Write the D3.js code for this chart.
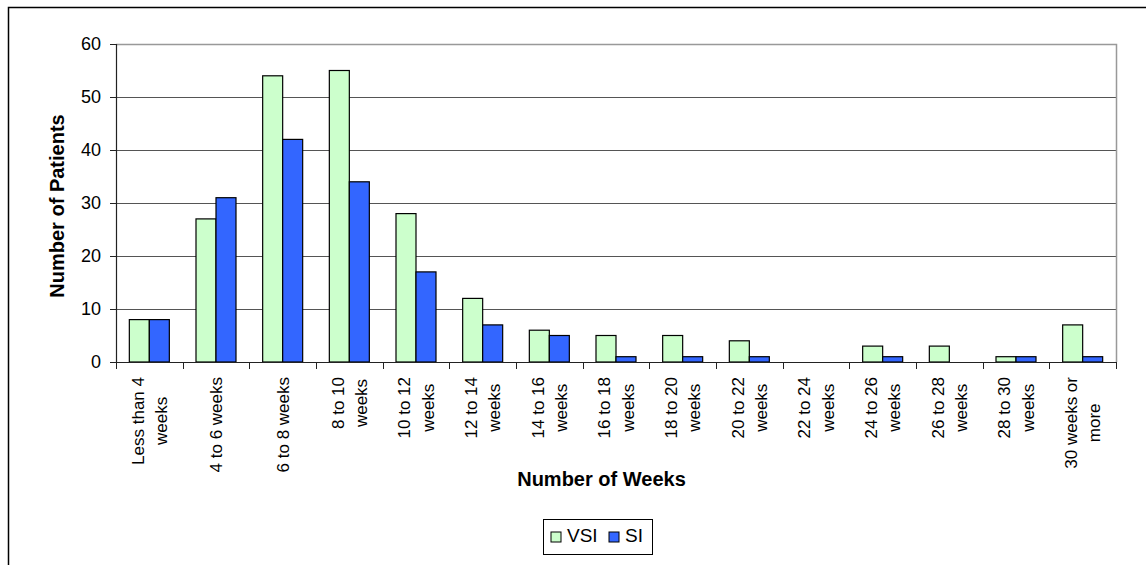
<!DOCTYPE html>
<html>
<head>
<meta charset="utf-8">
<script src="https://cdn.jsdelivr.net/npm/d3@7"></script>
<style>
  body { margin: 0; background: #fff; }
  text { font-family: "Liberation Sans", Arial, sans-serif; fill: #000; }
</style>
</head>
<body>
<div id="chart"></div>
<script>
  // categories (\n = line break in the rotated label)
  let categories = [
    'Less than 4\nweeks', '4 to 6 weeks', '6 to 8 weeks', '8 to 10\nweeks',
    '10 to 12\nweeks', '12 to 14\nweeks', '14 to 16\nweeks', '16 to 18\nweeks',
    '18 to 20\nweeks', '20 to 22\nweeks', '22 to 24\nweeks', '24 to 26\nweeks',
    '26 to 28\nweeks', '28 to 30\nweeks', '30 weeks or\nmore'
  ];
  let seriesNames = ['VSI', 'SI'];
  let vsiValues = [8, 27, 54, 55, 28, 12, 6, 5, 5, 4, 0, 3, 3, 1, 7];
  let siValues = [8, 31, 42, 34, 17, 7, 5, 1, 1, 1, 0, 1, 0, 1, 1];
  let yTicks = [0, 10, 20, 30, 40, 50, 60];

  let width = 1146;
  let height = 565;
  let plot = { left: 116, right: 1116, top: 44, bottom: 362 };
  let colors = { VSI: '#CCFFCC', SI: '#3366FF' };

  let svg = d3.select('#chart')
    .append('svg')
    .attr('width', width)
    .attr('height', height);

  //outer chart border (runs off the right and bottom edge)
  svg.append('rect')
    .attr('x', 8.5).attr('y', 7.5)
    .attr('width', width).attr('height', height)
    .attr('fill', 'none')
    .attr('stroke', '#000')
    .attr('stroke-width', 1.5);

  let x = d3.scaleBand()
    .domain(d3.range(categories.length))
    .range([plot.left, plot.right])
    .paddingInner(0.4)
    .paddingOuter(0.2);

  let x1 = d3.scaleBand()
    .domain(seriesNames)
    .range([0, x.bandwidth()]);

  let y = d3.scaleLinear()
    .domain([0, 60])
    .range([plot.bottom, plot.top]);

  //gridlines
  svg.append('g')
    .selectAll('line')
    .data(yTicks.filter((d) => d > 0 && d < 60))
    .enter().append('line')
    .attr('x1', plot.left).attr('x2', plot.right)
    .attr('y1', (d) => Math.round(y(d)) + 0.5)
    .attr('y2', (d) => Math.round(y(d)) + 0.5)
    .attr('stroke', '#555');

  //plot area border (top + right), gray
  svg.append('path')
    .attr('d', `M${plot.left},${plot.top + 0.5}H${plot.right + 0.5}V${plot.bottom}`)
    .attr('fill', 'none')
    .attr('stroke', '#999')
    .attr('stroke-width', 1.5);

  //bars
  let rows = categories.map((c, i) => ({ i: i, VSI: vsiValues[i], SI: siValues[i] }));

  svg.append('g')
    .selectAll('g')
    .data(rows)
    .enter().append('g')
    .attr('transform', (d) => `translate(${x(d.i)},0)`)
    .selectAll('rect')
    .data((d) => seriesNames.map((s) => ({ key: s, value: d[s] })).filter((b) => b.value > 0))
    .enter().append('rect')
    .attr('x', (d) => x1(d.key))
    .attr('y', (d) => y(d.value))
    .attr('width', x1.bandwidth())
    .attr('height', (d) => y(0) - y(d.value))
    .attr('fill', (d) => colors[d.key])
    .attr('stroke', '#000')
    .attr('stroke-width', 1.2);

  //y axis
  let yAxis = svg.append('g')
    .attr('transform', `translate(${plot.left},0)`)
    .call(d3.axisLeft(y).tickValues(yTicks).tickSize(6).tickPadding(9));
  yAxis.select('.domain').attr('stroke', '#222').attr('stroke-width', 1.2);
  yAxis.selectAll('.tick line').attr('stroke', '#222');
  yAxis.selectAll('text')
    .style('font-size', '18px')
    .style('font-family', '"Liberation Sans", Arial, sans-serif');

  //x axis line + ticks at category boundaries
  let step = x.step();
  svg.append('line')
    .attr('x1', plot.left).attr('x2', plot.right)
    .attr('y1', plot.bottom + 0.5).attr('y2', plot.bottom + 0.5)
    .attr('stroke', '#222')
    .attr('stroke-width', 1.2);

  svg.append('g')
    .selectAll('line')
    .data(d3.range(categories.length + 1))
    .enter().append('line')
    .attr('x1', (d) => Math.round(plot.left + d * step) + 0.5)
    .attr('x2', (d) => Math.round(plot.left + d * step) + 0.5)
    .attr('y1', plot.bottom)
    .attr('y2', plot.bottom + 7)
    .attr('stroke', '#222');

  //rotated category labels
  let labelSize = 17;
  let lineGap = 23.5;
  let capH = labelSize * 0.716;

  let labels = svg.append('g')
    .selectAll('g')
    .data(categories)
    .enter().append('g')
    .attr('transform', (d, i) => `translate(${x(i) + x.bandwidth() / 2},377) rotate(-90)`);

  labels.each(function(d){
    let g = d3.select(this);
    let lines = d.split('\n');
    let blockH = capH + (lines.length - 1) * lineGap;
    let texts = g.selectAll('text')
      .data(lines)
      .enter().append('text')
      .attr('y', (l, j) => -blockH / 2 + capH + j * lineGap)
      .style('font-size', labelSize + 'px')
      .text((l) => l);
    let longest = d3.max(texts.nodes(), (n) => n.getComputedTextLength());
    texts.attr('x', -longest / 2).attr('text-anchor', 'middle');
  });

  //axis titles
  svg.append('text')
    .attr('x', 601.5)
    .attr('y', 486)
    .attr('text-anchor', 'middle')
    .style('font-size', '20px')
    .style('font-weight', 'bold')
    .text('Number of Weeks');

  svg.append('text')
    .attr('transform', 'translate(64,206) rotate(-90)')
    .attr('text-anchor', 'middle')
    .style('font-size', '20px')
    .style('font-weight', 'bold')
    .text('Number of Patients');

  //legend
  let legend = svg.append('g').attr('transform', 'translate(543,519)');
  legend.append('rect')
    .attr('x', 0.5).attr('y', 0.5)
    .attr('width', 109).attr('height', 35)
    .attr('fill', '#fff')
    .attr('stroke', '#000');

  let legendX = { VSI: 8, SI: 66 };
  let items = legend.selectAll('.item')
    .data(seriesNames)
    .enter().append('g')
    .attr('class', 'item')
    .attr('transform', (d) => `translate(${legendX[d]},0)`);

  items.append('rect')
    .attr('x', 0).attr('y', 13)
    .attr('width', 10).attr('height', 10)
    .attr('fill', (d) => colors[d])
    .attr('stroke', '#000');

  items.append('text')
    .attr('x', 16)
    .attr('y', 23)
    .style('font-size', '19px')
    .text((d) => d);
</script>
</body>
</html>
